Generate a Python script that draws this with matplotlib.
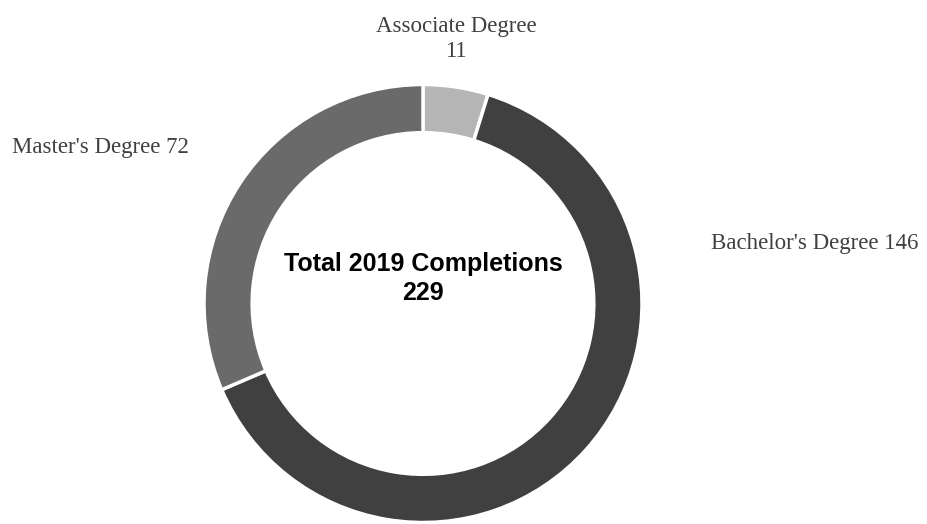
import matplotlib.pyplot as plt

categories = ["Associate Degree", "Bachelor's Degree", "Master's Degree"]
values = [11, 146, 72]
colors = ['#b5b5b5', '#404040', '#6a6a6a']
total = sum(values)

W, H = 928, 524
fig = plt.figure(figsize=(W / 100, H / 100), dpi=100)

# donut centre and radius in pixels
cx, cy, r = 423, 303.5, 219
ax = fig.add_axes([(cx - r) / W, (H - cy - r) / H, 2 * r / W, 2 * r / H])
ax.pie(values, colors=colors, startangle=90, counterclock=False,
       radius=1, wedgeprops=dict(width=0.22, edgecolor='white', linewidth=2.5))
ax.set_xlim(-1, 1)
ax.set_ylim(-1, 1)
ax.set_aspect('equal')
ax.axis('off')

label_font = dict(family='Liberation Serif', fontsize=16.5, color='#404040')
fig.text(456 / W, 1 - 39 / H, f"{categories[0]}\n{values[0]}",
         ha='center', va='center', linespacing=1.25, **label_font)
fig.text(711 / W, 1 - 243 / H, f"{categories[1]} {values[1]}",
         ha='left', va='center', **label_font)
fig.text(12 / W, 1 - 147 / H, f"{categories[2]} {values[2]}",
         ha='left', va='center', **label_font)

ax.text(0, 0.115, "Total 2019 Completions\n" + str(total), ha='center', va='center',
        family='Liberation Sans', fontweight='bold', fontsize=18,
        color='black', linespacing=1.25)

fig.savefig('out.png', dpi=100)
